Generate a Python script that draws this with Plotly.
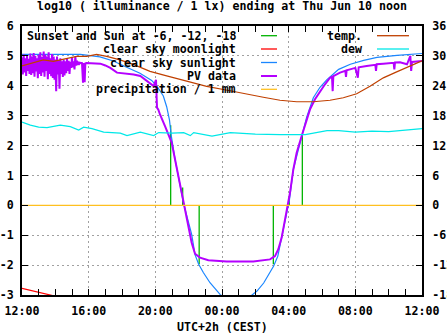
import pandas as pd
import plotly.graph_objects as go

# ---------------- data (hours after Wed Jun 9 12:00 CEST) ----------------
BASE = pd.Timestamp("2021-06-09 12:00")

# PV data, noisy afternoon part (0.05 h steps from 0.00 h)
pv_noise_start = 0.0
pv_noise_step = 0.05
pv_noise_v = [4.95, 4.38, 5.05, 4.45, 4.92, 4.33, 5.02, 4.50, 4.90, 4.40,
              5.08, 4.36, 4.98, 4.42, 5.10, 4.30, 5.00, 4.48, 4.92, 4.25,
              5.04, 4.40, 5.12, 4.33, 4.96, 4.45, 5.15, 4.30, 5.04, 4.50,
              4.98, 4.22, 5.12, 4.40, 4.92, 4.32, 5.06, 4.26, 4.98, 4.20,
              4.88, 3.82, 4.98, 4.38, 4.85, 3.90, 4.92, 4.40, 4.82, 4.30,
              4.88, 4.35, 4.82, 4.42, 4.90, 4.50, 4.84, 4.40, 4.80, 4.60,
              4.95, 4.62, 4.82, 4.55, 4.98, 4.68, 4.84, 4.70, 4.80, 4.74]
# PV data, rest of the day
pv_h = [3.50, 3.60, 3.66, 3.70, 3.76, 3.80, 3.86, 4.20, 4.70, 5.00, 5.30, 5.70,
        6.20, 6.70, 7.10, 7.50, 7.90, 8.04, 8.07, 8.10, 8.18, 8.28, 8.58, 8.78,
        8.98, 9.18, 9.38, 9.58, 9.68, 9.78, 9.98, 10.18, 10.38, 10.68, 11.18,
        12.28, 13.88, 14.88, 15.18, 15.38, 15.58, 15.78, 15.98, 16.08, 16.28,
        16.48, 16.78, 17.08, 17.28, 17.58, 17.88, 18.18, 18.48, 18.60, 18.64,
        18.68, 19.08, 19.40, 19.44, 19.48, 19.68, 20.00, 20.15, 20.20, 20.68,
        21.20, 21.24, 21.28, 21.68, 22.30, 22.34, 22.38, 22.68, 23.10, 23.30,
        23.35, 23.40, 24.00]
pv_v = [4.77, 4.76, 4.10, 4.76, 4.12, 4.75, 4.76, 4.76, 4.74, 4.68, 4.60, 4.44,
        4.42, 4.38, 4.33, 4.16, 3.99, 4.20, 3.50, 3.27, 3.20, 3.04, 2.65, 2.37,
        2.10, 1.54, 0.98, 0.31, 0.03, -0.25, -0.75, -1.25, -1.62, -1.75, -1.84,
        -1.88, -1.88, -1.81, -1.70, -1.47, -1.08, -0.52, 0.03, 0.42, 1.20,
        1.76, 2.32, 2.88, 3.21, 3.55, 3.82, 4.05, 4.27, 4.30, 3.82,
        4.32, 4.44, 4.50, 4.30, 4.52, 4.55, 4.60, 4.27, 4.62, 4.66,
        4.70, 4.50, 4.72, 4.74, 4.77, 4.55, 4.78, 4.79, 4.72, 5.00,
        4.50, 4.80, 4.83]

# clear sky sunlight
sun_h = [0, 3.5, 4.68, 5.48, 6.28, 7.08, 7.78, 8.08, 8.48, 8.68, 8.85, 8.95,
         9.18, 9.48, 9.70, 10.18, 10.38, 10.60, 10.88, 11.28, 11.68, 11.88,
         12.40, 12.87, 13.35, 13.88, 14.10, 14.50, 14.90, 15.10, 15.35, 15.58,
         15.88, 16.05, 16.28, 16.68, 17.08, 17.48, 17.88, 18.28, 19.00, 19.70,
         20.50, 21.30, 22.50, 24.00]
sun_v = [5.05, 5.05, 4.97, 4.83, 4.62, 4.42, 4.18, 4.00, 3.66, 3.30, 2.85, 2.35,
         1.55, 0.70, 0.05, -0.97, -1.65, -1.97, -2.25, -2.59, -2.87, -2.98,
         -3.20, -3.30, -3.20, -2.98, -2.87, -2.60, -2.25, -2.03, -1.70, -1.05,
         -0.25, 0.20, 1.20, 2.10, 2.95, 3.60, 3.95, 4.20, 4.55, 4.72,
         4.85, 4.95, 5.02, 5.08]

# clear sky moonlight
moon_h = [0, 0.8, 1.7, 2.6]
moon_v = [-2.78, -2.88, -3.00, -3.12]

# precipitation / 1 mm
precip_h = [0, 24]
precip_v = [0, 0]

# sunset and sun at -6, -12 (evening) / -12, -6, sunrise (morning)
event_h = [8.92, 9.64, 10.63, 15.08, 16.04, 16.82]
event_level = [2.68, 0.60, -1.97, -1.97, 0.25, 2.34]

# temperature and dew point (deg C, right axis)
temp_h = [0, 0.68, 1.28, 1.88, 2.68, 3.28, 3.88, 4.48, 5.08, 5.88, 6.68, 7.68,
          8.68, 9.88, 11.08, 12.48, 13.48, 14.48, 15.48, 16.48, 17.48, 18.48,
          19.28, 20.08, 20.88, 21.68, 22.48, 23.28, 24]
temp_c = [28.0, 28.6, 29.2, 28.9, 29.4, 29.9, 29.9, 30.3, 29.9, 29.2, 28.3, 26.9,
          26.0, 25.0, 23.9, 23.0, 22.3, 21.7, 21.1, 20.8, 20.8, 21.1,
          21.6, 22.4, 23.9, 25.6, 26.8, 27.9, 29.0]
dew_h = [0, 0.5, 1.0, 1.5, 2.3, 2.9, 3.4, 3.7, 4.2, 4.9, 5.9, 6.3, 7.1, 7.9, 8.2,
         9.0, 9.7, 10.1, 10.3, 11.4, 12.5, 14, 15.5, 17, 18.3, 19, 20, 21, 22, 23, 24]
dew_c = [16.7, 16.1, 15.7, 15.6, 16.1, 15.8, 15.1, 15.7, 15.4, 14.7, 14.5, 14.0,
         14.7, 14.0, 14.6, 14.5, 14.6, 14.0, 14.6, 13.9, 14.6, 14.3, 14.2, 14.2,
         15.0, 15.0, 14.7, 14.9, 14.8, 15.1, 15.4]

y_ticks_left = [-3, -2, -1, 0, 1, 2, 3, 4, 5, 6]
y_ticks_right = [-18, -12, -6, 0, 6, 12, 18, 24, 30, 36]

title_text = "log10 ( illuminance / 1 lx) ending at Thu Jun 10 noon"
xlabel_text = "UTC+2h (CEST)"
key_left = ["Sunset and Sun at -6, -12, -18", "clear sky moonlight",
            "clear sky sunlight", "PV data", "precipitation / 1 mm"]
key_right = ["temp.", "dew"]

# ---------------- styling ----------------
C_GREEN = "#00b400"
C_RED = "#ff0000"
C_BLUE = "#1a86ff"
C_PURPLE = "#b400ff"
C_ORANGE = "#ffc020"
C_BROWN = "#c04000"
C_CYAN = "#00e8e8"
FONT = "DejaVu Sans Mono"
FS = 11.6

W, H = 447, 335
L, R, T, B = 22, 422, 26, 295


def t(hours):
    return [BASE + pd.Timedelta(hours=h) for h in hours]


def px(x):
    return (x - L) / (R - L)


def py(y):
    return (B - y) / (B - T)


pv_all_h = [pv_noise_start + i * pv_noise_step for i in range(len(pv_noise_v))] + pv_h
pv_all_v = pv_noise_v + pv_v

ev_x, ev_y = [], []
for h, lv in zip(event_h, event_level):
    ev_x += [h, h, None]
    ev_y += [0, lv, None]
ev_t = [BASE + pd.Timedelta(hours=h) if h is not None else None for h in ev_x]

fig = go.Figure()
fig.add_trace(go.Scatter(x=ev_t, y=ev_y, mode="lines", line=dict(color=C_GREEN, width=1.3)))
fig.add_trace(go.Scatter(x=t(moon_h), y=moon_v, mode="lines", line=dict(color=C_RED, width=1.2)))
fig.add_trace(go.Scatter(x=t(sun_h), y=sun_v, mode="lines", line=dict(color=C_BLUE, width=1.2)))
fig.add_trace(go.Scatter(x=t(pv_all_h), y=pv_all_v, mode="lines", line=dict(color=C_PURPLE, width=2)))
fig.add_trace(go.Scatter(x=t(precip_h), y=precip_v, mode="lines", line=dict(color=C_ORANGE, width=1.3)))
fig.add_trace(go.Scatter(x=t(temp_h), y=temp_c, yaxis="y2", mode="lines", line=dict(color=C_BROWN, width=1.2)))
fig.add_trace(go.Scatter(x=t(dew_h), y=dew_c, yaxis="y2", mode="lines", line=dict(color=C_CYAN, width=1.2)))

shapes = []
# opaque key backgrounds (over grid, under data)
shapes.append(dict(type="rect", xref="paper", yref="paper", layer="between",
                   x0=px(L + 1), x1=px(282), y0=py(93), y1=py(T + 1),
                   fillcolor="white", line=dict(width=0)))
shapes.append(dict(type="rect", xref="paper", yref="paper", layer="between",
                   x0=px(326), x1=px(R - 1), y0=py(54), y1=py(T + 1),
                   fillcolor="white", line=dict(width=0)))

annotations = []
rows_y = [35.7, 49.0, 62.5, 76.0, 89.3]
left_cols = [C_GREEN, C_RED, C_BLUE, C_PURPLE, C_ORANGE]
left_w = [1.3, 1.3, 1.3, 2, 1.3]
for txt, yy, col, lw in zip(key_left, rows_y, left_cols, left_w):
    annotations.append(dict(text=txt, x=px(238), y=py(yy), xref="paper", yref="paper",
                            xanchor="right", yanchor="middle", showarrow=False,
                            font=dict(family=FONT, size=FS, color="black", weight="bold")))
    shapes.append(dict(type="line", xref="paper", yref="paper", x0=px(261), x1=px(277),
                       y0=py(yy), y1=py(yy), line=dict(color=col, width=lw)))
for txt, yy, col in zip(key_right, rows_y[:2], [C_BROWN, C_CYAN]):
    annotations.append(dict(text=txt, x=px(364), y=py(yy), xref="paper", yref="paper",
                            xanchor="right", yanchor="middle", showarrow=False,
                            font=dict(family=FONT, size=FS, color="black", weight="bold")))
    shapes.append(dict(type="line", xref="paper", yref="paper", x0=px(377), x1=px(409),
                       y0=py(yy), y1=py(yy), line=dict(color=col, width=1.3)))

annotations.append(dict(text=title_text, x=0.5, y=py(6.5), xref="paper", yref="paper",
                        xanchor="center", yanchor="middle", showarrow=False,
                        font=dict(family=FONT, size=FS, color="black", weight="bold")))
annotations.append(dict(text=xlabel_text, x=0.5, y=py(327.5), xref="paper", yref="paper",
                        xanchor="center", yanchor="middle", showarrow=False,
                        font=dict(family=FONT, size=FS, color="black", weight="bold")))

tickfont = dict(family=FONT, size=FS, color="black", weight="bold")
grid = dict(showgrid=True, gridcolor="#a0a0a0", gridwidth=1, griddash="2px,3px")

fig.update_layout(
    width=W, height=H,
    margin=dict(l=L, r=W - R, t=T, b=H - B, pad=0, autoexpand=False),
    paper_bgcolor="white", plot_bgcolor="white",
    showlegend=False,
    shapes=shapes, annotations=annotations,
    xaxis=dict(type="date", range=[BASE, BASE + pd.Timedelta(hours=24)],
               tickformat="%H:%M", dtick=4 * 3600 * 1000, tick0=BASE,
               ticks="inside", ticklen=6, tickwidth=1, tickcolor="black",
               minor=dict(dtick=3600 * 1000, ticks="inside", ticklen=3, tickcolor="black", showgrid=False),
               showline=True, linecolor="black", linewidth=2, mirror="allticks",
               tickfont=tickfont, ticklabelstandoff=4, zeroline=False, automargin=False,
               ticklabeloverflow="allow", **grid),
    yaxis=dict(range=[-3.001, 6.001], tickvals=y_ticks_left, ticktext=[str(v) for v in y_ticks_left],
               ticks="inside", ticklen=6, tickcolor="black",
               showline=True, linecolor="black", linewidth=2, mirror=False,
               tickfont=tickfont, ticklabelstandoff=4, zeroline=False, automargin=False,
               ticklabeloverflow="allow", **grid),
    yaxis2=dict(range=[-18.006, 36.006], tickvals=y_ticks_right, ticktext=[str(v) for v in y_ticks_right],
                overlaying="y", side="right", ticks="inside", ticklen=6, tickcolor="black",
                showline=True, linecolor="black", linewidth=2, showgrid=False, zeroline=False,
                tickfont=tickfont, ticklabelstandoff=6, automargin=False, ticklabeloverflow="allow"),
)

fig.write_html("out.html")
